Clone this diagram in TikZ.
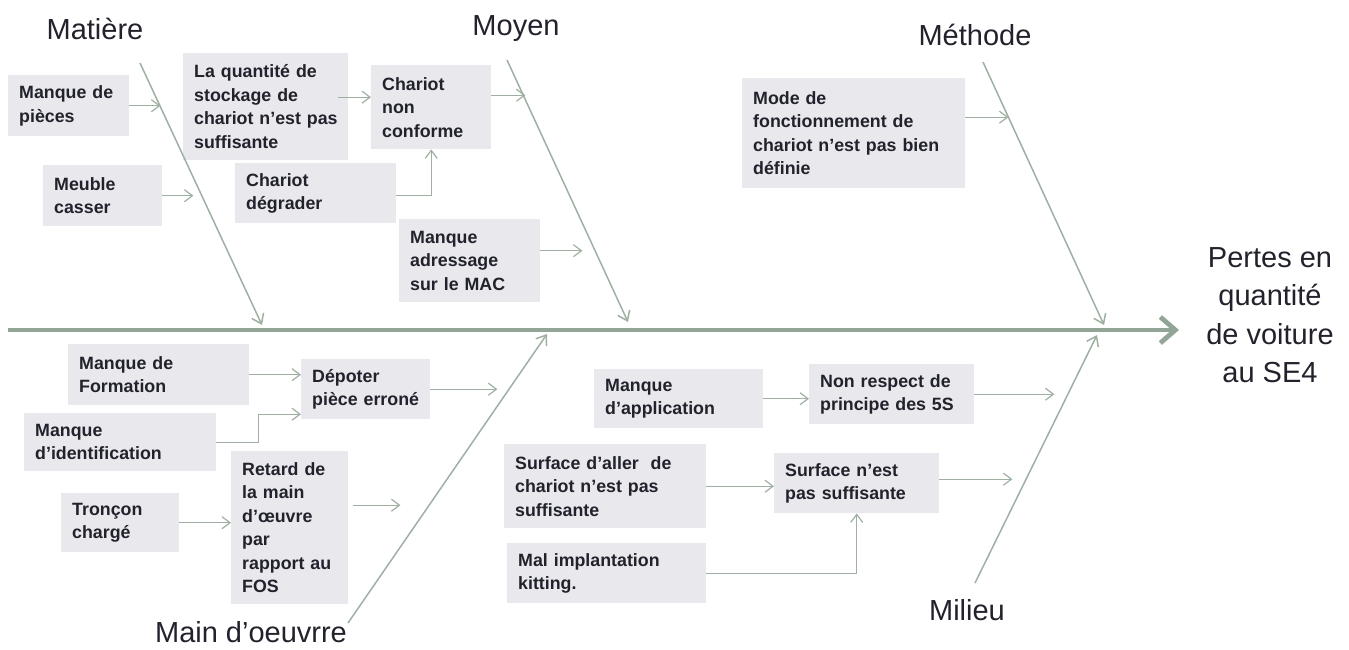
\documentclass[tikz,border=0pt]{standalone}
\usepackage{fontspec}
\setmainfont{Liberation Sans}
\usetikzlibrary{arrows.meta}
\definecolor{ink}{HTML}{22222C}
\definecolor{boxfill}{HTML}{E8E8ED}
\definecolor{bonecol}{HTML}{9FB0A2}
\definecolor{spinecol}{HTML}{93A596}
\begin{document}
\begin{tikzpicture}[x=1pt,y=-1pt,
  cause/.style={fill=boxfill, text=ink, font=\bfseries\fontsize{17.8}{23.5}\selectfont,
    align=left, inner xsep=11pt, inner ysep=0pt, anchor=north west},
  title/.style={text=ink, font=\fontsize{29}{38.5}\selectfont, inner sep=0pt, anchor=base},
  sub/.style={draw=bonecol, line width=1.2pt, -{Straight Barb[length=8pt,width=12pt]}},
  bone/.style={draw=bonecol, line width=1.5pt, -{Straight Barb[length=9pt,width=13pt]}},
  spine/.style={draw=spinecol, line width=4.8pt, -{Straight Barb[length=15pt,width=26pt]}},
]
\useasboundingbox (0,0) rectangle (1349,649);

% category labels and effect
\node[title] (matiere) at (95,39) {Matière};
\node[title] (moyen) at (516,35) {Moyen};
\node[title] (methode) at (975,45) {Méthode};
\node[title] (milieu) at (967,620) {Milieu};
\node[title] (mainoeuvre) at (251,642) {Main d’oeuvrre};
\node[title, anchor=center, align=center] (effect) at (1270,315)
  {Pertes en\\quantité\\de voiture\\au SE4};

% cause boxes (top half)
\node[cause, text width=99pt, minimum height=61pt] (piece) at (8,75) {Manque de\\pièces};
\node[cause, text width=97pt, minimum height=61pt] (meuble) at (43,165) {Meuble\\casser};
\node[cause, text width=143pt, minimum height=107pt] (stock) at (183,53)
  {La quantité de\\stockage de\\\mbox{chariot n’est pas}\\suffisante};
\node[cause, text width=98pt, minimum height=84pt] (nonconf) at (371,65) {Chariot\\non\\conforme};
\node[cause, text width=139pt, minimum height=60pt] (degrad) at (235,163) {Chariot\\dégrader};
\node[cause, text width=119pt, minimum height=83pt] (adress) at (399,219) {Manque\\adressage\\sur le MAC};
\node[cause, text width=201pt, minimum height=110pt] (mode) at (742,78)
  {Mode de\\fonctionnement de\\\mbox{chariot n’est pas bien}\\définie};

% cause boxes (bottom half)
\node[cause, text width=159pt, minimum height=61pt] (form) at (68,344) {Manque de\\Formation};
\node[cause, text width=107pt, minimum height=60pt] (depot) at (301,359) {Dépoter\\\mbox{pièce erroné}};
\node[cause, text width=170pt, minimum height=58pt] (ident) at (24,413) {Manque\\d’identification};
\node[cause, text width=96pt, minimum height=59pt] (troncon) at (61,493) {Tronçon\\chargé};
\node[cause, text width=95pt, minimum height=153pt] (retard) at (231,451)
  {Retard de\\la main\\d’œuvre\\par\\\mbox{rapport au}\\FOS};
\node[cause, text width=147pt, minimum height=59pt] (applic) at (594,369) {Manque\\d’application};
\node[cause, text width=143pt, minimum height=60pt] (respect) at (809,364) {Non respect de\\principe des 5S};
\node[cause, text width=180pt, minimum height=84pt] (allee) at (504,444)
  {Surface d’aller\ \ de\\chariot n’est pas\\suffisante};
\node[cause, text width=143pt, minimum height=60pt] (surf) at (774,453) {Surface n’est\\pas suffisante};
\node[cause, text width=177pt, minimum height=60pt] (kit) at (507,543) {Mal implantation\\kitting.};

% main bones
\coordinate (matTop) at (140,63);   \coordinate (matEnd) at (262,325);
\coordinate (moyTop) at (507,60);   \coordinate (moyEnd) at (628,322);
\coordinate (metTop) at (983,62);   \coordinate (metEnd) at (1104,325);
\coordinate (mainBot) at (348,623); \coordinate (mainEnd) at (547,334);
\coordinate (milBot) at (975,583);  \coordinate (milEnd) at (1097,335);
\coordinate (spineStart) at (8,330); \coordinate (spineEnd) at (1179,330);

\draw[bone] (matTop) -- (matEnd);
\draw[bone] (moyTop) -- (moyEnd);
\draw[bone] (metTop) -- (metEnd);
\draw[bone] (mainBot) -- (mainEnd);
\draw[bone] (milBot) -- (milEnd);
\draw[spine] (spineStart) -- (spineEnd);

% sub-cause connectors
\draw[sub] (piece.east) -- ++(31,0);
\draw[sub] (meuble.east) -- ++(31,0);
\coordinate (stockOut) at ([xshift=-10pt,yshift=9.5pt]stock.east);
\draw[sub] (stockOut) -- (stockOut -| nonconf.west);
\draw[sub] ([yshift=12pt]nonconf.east) -- ++(34,0);
\draw[sub] ([yshift=-2pt]degrad.east) -| (nonconf.south);
\draw[sub] ([yshift=10pt]adress.east) -- ++(42,0);
\draw[sub] ([yshift=16pt]mode.east) -- ++(43,0);

\draw[sub] (form.east) -- (form.east -| depot.west);
\draw[sub] (ident.east) -- ++(42,0) |- ([yshift=-25pt]depot.west);
\draw[sub] (depot.east) -- ++(67,0);
\draw[sub] (troncon.east) -- (troncon.east -| retard.west);
\draw[sub] ([xshift=5pt,yshift=22.5pt]retard.east) -- ++(47,0);
\draw[sub] (applic.east) -- (applic.east -| respect.west);
\draw[sub] (respect.east) -- ++(80,0);
\draw[sub] (allee.east) -- (allee.east -| surf.west);
\draw[sub] ([yshift=4pt]surf.east) -- ++(73,0);
\draw[sub] (kit.east) -| (surf.south);
\end{tikzpicture}
\end{document}
